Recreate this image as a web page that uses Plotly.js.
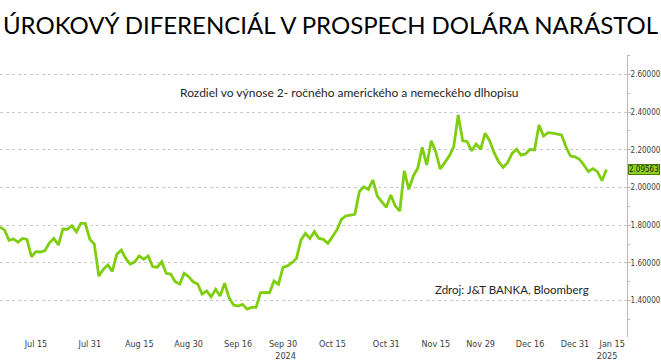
<!DOCTYPE html>
<html>
<head>
<meta charset="utf-8">
<script src="https://cdn.plot.ly/plotly-3.0.1.min.js"></script>
<style>html,body{margin:0;padding:0;background:#fff;}#chart{width:661px;height:362px;}</style>
</head>
<body>
<div id="chart"></div>
<script>
const dates = [
"2024-07-03","2024-07-04","2024-07-05","2024-07-08","2024-07-09","2024-07-10","2024-07-11","2024-07-12",
"2024-07-15","2024-07-16","2024-07-17","2024-07-18","2024-07-19","2024-07-22","2024-07-23","2024-07-24",
"2024-07-25","2024-07-26","2024-07-29","2024-07-30","2024-07-31",
"2024-08-01","2024-08-02","2024-08-05","2024-08-06","2024-08-07","2024-08-08","2024-08-09","2024-08-12",
"2024-08-13","2024-08-14","2024-08-15","2024-08-16","2024-08-19","2024-08-20","2024-08-21","2024-08-22",
"2024-08-23","2024-08-26","2024-08-27","2024-08-28","2024-08-29","2024-08-30",
"2024-09-02","2024-09-03","2024-09-04","2024-09-05","2024-09-06","2024-09-09","2024-09-10","2024-09-11",
"2024-09-12","2024-09-13","2024-09-16","2024-09-17","2024-09-18","2024-09-19","2024-09-20","2024-09-23",
"2024-09-24","2024-09-25","2024-09-26","2024-09-27","2024-09-30",
"2024-10-01","2024-10-02","2024-10-03","2024-10-04","2024-10-07","2024-10-08","2024-10-09","2024-10-10",
"2024-10-11","2024-10-14","2024-10-15","2024-10-16","2024-10-17","2024-10-18","2024-10-21","2024-10-22",
"2024-10-23","2024-10-24","2024-10-25","2024-10-28","2024-10-29","2024-10-30","2024-10-31",
"2024-11-01","2024-11-04","2024-11-05","2024-11-06","2024-11-07","2024-11-08","2024-11-11","2024-11-12",
"2024-11-13","2024-11-14","2024-11-15","2024-11-18","2024-11-19","2024-11-20","2024-11-21","2024-11-22",
"2024-11-25","2024-11-26","2024-11-27","2024-11-28","2024-11-29",
"2024-12-02","2024-12-03","2024-12-04","2024-12-05","2024-12-06","2024-12-09","2024-12-10","2024-12-11",
"2024-12-12","2024-12-13","2024-12-16","2024-12-17","2024-12-18","2024-12-19","2024-12-20","2024-12-23",
"2024-12-24","2024-12-26","2024-12-27","2024-12-30","2024-12-31",
"2025-01-02","2025-01-03","2025-01-06","2025-01-07","2025-01-08","2025-01-09","2025-01-10"
];
const spread = [
1.790, 1.775, 1.720, 1.727, 1.710, 1.730, 1.725, 1.633, 1.660, 1.658,
1.665, 1.707, 1.730, 1.695, 1.780, 1.778, 1.797, 1.765, 1.810, 1.810,
1.725, 1.700, 1.530, 1.566, 1.589, 1.555, 1.646, 1.668, 1.624, 1.593,
1.606, 1.637, 1.619, 1.637, 1.580, 1.577, 1.606, 1.545, 1.541, 1.500,
1.488, 1.545, 1.527, 1.500, 1.488, 1.435, 1.452, 1.420, 1.460, 1.424,
1.492, 1.415, 1.377, 1.371, 1.380, 1.355, 1.364, 1.364, 1.442, 1.444,
1.442, 1.504, 1.486, 1.577, 1.584, 1.601, 1.624, 1.721, 1.757, 1.730,
1.766, 1.730, 1.725, 1.704, 1.739, 1.775, 1.831, 1.849, 1.854, 1.858,
1.978, 2.004, 1.990, 2.040, 1.955, 1.925, 1.895, 1.960, 1.902, 1.875,
2.089, 1.990, 2.061, 2.102, 2.213, 2.119, 2.248, 2.190, 2.098, 2.132,
2.167, 2.216, 2.385, 2.248, 2.243, 2.195, 2.231, 2.203, 2.288, 2.248,
2.185, 2.137, 2.107, 2.132, 2.181, 2.203, 2.172, 2.178, 2.203, 2.199,
2.332, 2.273, 2.291, 2.288, 2.283, 2.279, 2.216, 2.167, 2.163, 2.150,
2.119, 2.084, 2.100, 2.084, 2.036, 2.09563
];
const tickDates = ["2024-07-15","2024-07-31","2024-08-15","2024-08-30","2024-09-16","2024-09-30",
"2024-10-15","2024-10-31","2024-11-15","2024-11-29","2024-12-16","2024-12-31","2025-01-15"];
const NB = "\u00a0";
const tickLabels = ["Jul 15","Jul 31","Aug 15","Aug 30","Sep 16","Sep 30<br>" + NB.repeat(2) + "2024",
"Oct 15","Oct 31","Nov 15","Nov 29","Dec 16","Dec 31","Jan 15" + NB.repeat(6) + "<br>2025" + NB.repeat(10)];
const yTicks = [1.4, 1.6, 1.8, 2.0, 2.2, 2.4, 2.6];
const titleText = "ÚROKOVÝ DIFERENCIÁL V PROSPECH DOLÁRA NARÁSTOL";
const subtitleText = "Rozdiel vo výnose 2- ročného amerického a nemeckého dlhopisu";
const sourceText = "Zdroj: J&T BANKA, Bloomberg";
const lastValue = spread[spread.length - 1];

const tickFont = {family: "Liberation Sans Narrow, DejaVu Sans Condensed, Liberation Sans, sans-serif", size: 9, color: "#404040"};
const yTickFont = {family: tickFont.family, size: 8, color: "#404040"};

const trace = {
  x: dates, y: spread, type: "scatter", mode: "lines",
  line: {color: "#7fce0e", width: 2.8},
  hoverinfo: "skip"
};

const layout = {
  width: 661, height: 362,
  margin: {l: 0, r: 34, t: 55, b: 25, pad: 0},
  paper_bgcolor: "#ffffff", plot_bgcolor: "#ffffff",
  showlegend: false,
  title: {
    text: titleText, x: 0.5, xref: "container", xanchor: "center",
    y: 1 - 26/362, yref: "container", yanchor: "middle",
    font: {family: "Lato, Carlito, sans-serif", size: 24, color: "#000000"}
  },
  xaxis: {
    type: "date",
    range: ["2024-07-03", "2025-01-16 14:00"],
    rangebreaks: [{bounds: ["sat", "mon"]}, {values: ["2024-12-25", "2025-01-01"]}],
    showgrid: false, zeroline: false, showline: false,
    tickmode: "array", tickvals: tickDates, ticktext: tickLabels,
    tickangle: 0, ticks: "", tickfont: tickFont
  },
  yaxis: {
    side: "right", range: [1.207, 2.703],
    tickmode: "array", tickvals: yTicks, tickformat: ".5f",
    showgrid: true, gridcolor: "#c9c9c9", griddash: "dot", gridwidth: 1,
    showline: true, linecolor: "#c9b3b3", linewidth: 1,
    ticks: "outside", ticklen: 3, tickcolor: "#c9b3b3",
    ticklabelstandoff: -2,
    minor: {dtick: 0.1, tick0: 1.3, ticks: "outside", ticklen: 2, tickcolor: "#c9b3b3", showgrid: false},
    zeroline: false, tickfont: yTickFont
  },
  annotations: [
    {text: subtitleText, xref: "paper", yref: "paper", x: 349/627, y: (337-92)/282,
     xanchor: "center", yanchor: "middle", showarrow: false,
     font: {family: "Lato, Carlito, sans-serif", size: 12, color: "#262626"}},
    {text: sourceText, xref: "paper", yref: "paper", x: 433/627, y: (337-289)/282,
     xanchor: "left", yanchor: "middle", showarrow: false,
     font: {family: "Lato, Carlito, sans-serif", size: 11.5, color: "#262626"}},
    {text: lastValue.toFixed(5), xref: "paper", yref: "y", x: 1, y: lastValue,
     xanchor: "left", yanchor: "middle", xshift: 1, showarrow: false,
     bgcolor: "#8fd21e", bordercolor: "#4d7d06", borderwidth: 1, borderpad: 0,
     font: {family: tickFont.family, size: 8, color: "#1a1a1a"}}
  ]
};

Plotly.newPlot("chart", [trace], layout, {displayModeBar: false, staticPlot: true});
</script>
</body>
</html>
